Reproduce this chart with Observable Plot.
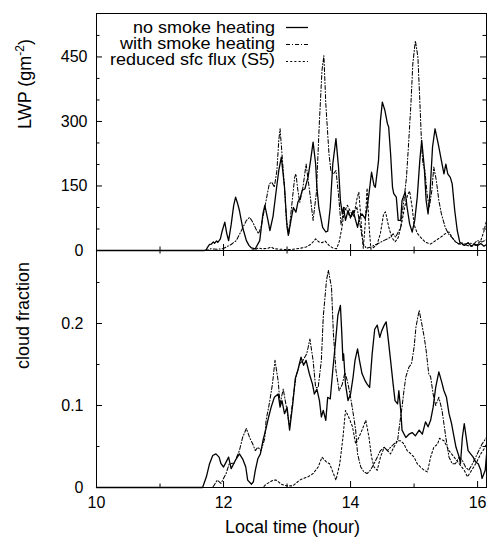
<!DOCTYPE html>
<html>
<head>
<meta charset="utf-8">
<script src="https://cdn.jsdelivr.net/npm/d3@7"></script>
<script src="https://cdn.jsdelivr.net/npm/@observablehq/plot@0.6"></script>
<style>
html,body{margin:0;padding:0;background:#fff;}
#chart{position:relative;width:487px;height:541px;overflow:hidden;background:#fff;}
#chart svg{position:absolute;left:0;}
</style>
</head>
<body>
<div id="chart"></div>
<script>
// ---------- DATA (hour, value) ----------
const seriesLabels = ["no smoke heating", "with smoke heating", "reduced sfc flux (S5)"];

// LWP (g m-2), top panel
const lwpNoSmoke = [[10,0],[11.7,0],[11.73,2],[11.75,8],[11.78,14],[11.81,15],[11.84,20],[11.86,17],[11.89,22],[11.91,19],[11.95,27],[11.98,46],[12.02,66],[12.05,40],[12.08,23],[12.12,60],[12.16,105],[12.19,124],[12.22,110],[12.25,93],[12.3,54],[12.36,23],[12.4,12],[12.44,6],[12.5,4],[12.57,23],[12.62,85],[12.65,105],[12.7,70],[12.73,46],[12.78,80],[12.83,140],[12.87,186],[12.91,217],[12.96,147],[13.0,54],[13.02,35],[13.07,77],[13.1,100],[13.14,89],[13.17,112],[13.21,124],[13.24,140],[13.28,143],[13.33,170],[13.37,209],[13.41,252],[13.45,201],[13.47,147],[13.5,100],[13.56,54],[13.61,43],[13.64,45],[13.68,100],[13.72,201],[13.77,260],[13.81,194],[13.84,116],[13.87,85],[13.89,100],[13.92,70],[13.96,93],[14.0,77],[14.04,93],[14.08,70],[14.11,54],[14.14,77],[14.18,85],[14.23,74],[14.26,100],[14.29,132],[14.33,182],[14.37,151],[14.39,147],[14.44,209],[14.47,302],[14.5,345],[14.54,326],[14.58,295],[14.6,287],[14.63,225],[14.66,147],[14.68,132],[14.72,124],[14.75,70],[14.79,70],[14.81,116],[14.86,136],[14.89,100],[14.93,62],[14.97,43],[15.01,70],[15.05,124],[15.09,209],[15.12,256],[15.16,194],[15.19,116],[15.22,85],[15.25,132],[15.29,240],[15.33,283],[15.38,248],[15.43,209],[15.47,178],[15.5,201],[15.53,178],[15.57,170],[15.6,155],[15.64,93],[15.68,46],[15.72,19],[15.76,15],[15.8,12],[15.85,18],[15.9,10],[15.95,15],[16.0,12],[16.05,16],[16.1,10],[16.14,14]];
const lwpWithSmoke = [[10,0],[11.73,0],[11.8,4],[11.9,3],[11.99,4],[12.04,8],[12.12,14],[12.2,23],[12.28,46],[12.36,70],[12.41,77],[12.46,66],[12.51,50],[12.55,39],[12.59,54],[12.64,93],[12.68,124],[12.72,155],[12.76,159],[12.8,147],[12.84,186],[12.87,256],[12.89,283],[12.92,225],[12.96,147],[12.99,70],[13.03,39],[13.07,100],[13.12,170],[13.14,178],[13.17,140],[13.2,112],[13.25,147],[13.3,201],[13.36,132],[13.41,70],[13.46,132],[13.51,302],[13.55,419],[13.58,453],[13.61,341],[13.66,225],[13.69,186],[13.73,178],[13.77,186],[13.81,130],[13.85,60],[13.9,100],[13.95,90],[14.0,75],[14.05,90],[14.1,100],[14.15,60],[14.2,15],[14.25,5],[14.32,8],[14.37,12],[14.42,15],[14.47,19],[14.52,23],[14.58,27],[14.63,31],[14.67,39],[14.71,31],[14.75,43],[14.79,54],[14.81,85],[14.84,116],[14.88,170],[14.91,240],[14.95,341],[14.98,434],[15.02,488],[15.06,450],[15.09,349],[15.12,240],[15.14,201],[15.17,186],[15.21,124],[15.24,100],[15.28,140],[15.31,194],[15.35,163],[15.39,116],[15.43,85],[15.49,54],[15.54,39],[15.59,31],[15.64,23],[15.7,15],[15.75,18],[15.81,15],[15.86,18],[15.94,15],[15.99,23],[16.07,20],[16.14,25]];
const lwpS5 = [[10,0],[12.4,0],[12.5,2],[12.55,6],[12.6,4],[12.7,5],[12.75,8],[12.8,4],[12.9,3],[13.0,2],[13.1,3],[13.2,5],[13.3,8],[13.38,15],[13.45,27],[13.5,20],[13.55,18],[13.6,22],[13.66,12],[13.72,6],[13.78,4],[13.82,20],[13.86,50],[13.9,90],[13.95,105],[14.0,90],[14.05,80],[14.1,120],[14.13,136],[14.17,60],[14.2,5],[14.23,60],[14.26,145],[14.29,60],[14.32,3],[14.37,8],[14.42,15],[14.47,40],[14.52,85],[14.55,90],[14.6,55],[14.65,30],[14.7,20],[14.75,30],[14.8,60],[14.85,100],[14.9,130],[14.93,138],[14.97,100],[15.0,60],[15.05,40],[15.1,31],[15.18,19],[15.26,15],[15.34,23],[15.42,31],[15.5,40],[15.55,43],[15.6,30],[15.65,20],[15.72,15],[15.8,12],[15.9,10],[15.98,12],[16.05,23],[16.1,45],[16.14,70]];

// cloud fraction, bottom panel
const cfNoSmoke = [[10,0],[11.67,0],[11.73,0.013],[11.78,0.029],[11.83,0.039],[11.88,0.041],[11.93,0.037],[11.96,0.029],[12.0,0.025],[12.04,0.031],[12.08,0.037],[12.12,0.023],[12.16,0.029],[12.2,0.035],[12.25,0.041],[12.3,0.035],[12.35,0.025],[12.38,0.009],[12.44,0.004],[12.47,0.007],[12.5,0.021],[12.54,0.035],[12.58,0.041],[12.62,0.057],[12.67,0.072],[12.71,0.086],[12.75,0.098],[12.8,0.11],[12.86,0.114],[12.89,0.098],[12.92,0.106],[12.96,0.09],[13.0,0.098],[13.04,0.07],[13.09,0.102],[13.13,0.133],[13.17,0.143],[13.22,0.159],[13.26,0.149],[13.3,0.155],[13.35,0.139],[13.4,0.126],[13.43,0.114],[13.47,0.12],[13.51,0.106],[13.54,0.086],[13.57,0.094],[13.61,0.082],[13.64,0.11],[13.68,0.108],[13.72,0.143],[13.76,0.175],[13.8,0.21],[13.84,0.222],[13.86,0.191],[13.88,0.155],[13.89,0.163],[13.92,0.126],[13.96,0.106],[14.0,0.114],[14.04,0.135],[14.07,0.155],[14.11,0.169],[14.14,0.155],[14.18,0.139],[14.23,0.13],[14.26,0.126],[14.3,0.122],[14.34,0.163],[14.38,0.193],[14.42,0.198],[14.46,0.183],[14.49,0.191],[14.53,0.198],[14.56,0.202],[14.59,0.183],[14.63,0.155],[14.67,0.126],[14.7,0.106],[14.74,0.102],[14.76,0.118],[14.79,0.094],[14.81,0.07],[14.87,0.061],[14.92,0.065],[14.97,0.067],[15.02,0.063],[15.08,0.07],[15.13,0.065],[15.18,0.08],[15.22,0.074],[15.26,0.082],[15.3,0.098],[15.34,0.122],[15.39,0.141],[15.43,0.13],[15.47,0.118],[15.51,0.11],[15.55,0.09],[15.59,0.078],[15.63,0.061],[15.66,0.049],[15.71,0.037],[15.73,0.029],[15.76,0.061],[15.79,0.078],[15.81,0.067],[15.85,0.045],[15.89,0.041],[15.93,0.037],[15.97,0.031],[16.01,0.029],[16.05,0.021],[16.07,0.011],[16.12,0.021],[16.14,0.04]];
const cfWithSmoke = [[10,0],[11.83,0],[11.9,0.009],[11.96,0.005],[12.04,0.017],[12.09,0.029],[12.17,0.03],[12.25,0.045],[12.3,0.061],[12.36,0.072],[12.41,0.061],[12.46,0.053],[12.5,0.045],[12.54,0.049],[12.59,0.045],[12.65,0.06],[12.67,0.082],[12.72,0.102],[12.77,0.126],[12.81,0.155],[12.86,0.13],[12.89,0.102],[12.94,0.12],[12.99,0.098],[13.04,0.074],[13.09,0.106],[13.14,0.135],[13.2,0.151],[13.25,0.155],[13.31,0.163],[13.36,0.181],[13.41,0.155],[13.45,0.122],[13.49,0.122],[13.54,0.155],[13.57,0.208],[13.62,0.252],[13.65,0.265],[13.7,0.244],[13.73,0.187],[13.77,0.143],[13.82,0.118],[13.87,0.126],[13.91,0.14],[13.95,0.13],[14.0,0.11],[14.05,0.086],[14.08,0.07],[14.11,0.041],[14.16,0.025],[14.21,0.019],[14.26,0.017],[14.31,0.021],[14.37,0.029],[14.42,0.037],[14.47,0.045],[14.53,0.049],[14.58,0.045],[14.63,0.049],[14.68,0.053],[14.74,0.057],[14.76,0.07],[14.81,0.098],[14.84,0.118],[14.87,0.135],[14.92,0.147],[14.96,0.151],[15.0,0.171],[15.03,0.196],[15.08,0.216],[15.12,0.2],[15.16,0.183],[15.19,0.167],[15.23,0.139],[15.26,0.135],[15.3,0.114],[15.34,0.1],[15.39,0.11],[15.44,0.094],[15.5,0.061],[15.55,0.037],[15.6,0.029],[15.65,0.029],[15.71,0.037],[15.76,0.033],[15.81,0.025],[15.86,0.021],[15.92,0.029],[15.97,0.037],[16.02,0.045],[16.07,0.053],[16.14,0.061]];
const cfS5 = [[10,0],[12.62,0],[12.67,0.004],[12.78,0.009],[12.83,0.009],[12.91,0.004],[12.99,0.002],[13.09,0.002],[13.2,0.009],[13.25,0.011],[13.33,0.013],[13.41,0.017],[13.49,0.025],[13.55,0.037],[13.62,0.031],[13.67,0.029],[13.72,0.019],[13.77,0.009],[13.83,0.029],[13.88,0.061],[13.92,0.094],[13.97,0.086],[14.03,0.074],[14.08,0.053],[14.13,0.061],[14.18,0.07],[14.24,0.082],[14.29,0.061],[14.33,0.037],[14.37,0.025],[14.42,0.021],[14.47,0.037],[14.53,0.049],[14.58,0.045],[14.63,0.041],[14.68,0.049],[14.74,0.057],[14.79,0.057],[14.84,0.053],[14.89,0.045],[14.95,0.041],[15.0,0.037],[15.05,0.029],[15.1,0.025],[15.16,0.021],[15.21,0.019],[15.26,0.037],[15.31,0.049],[15.37,0.053],[15.4,0.06],[15.47,0.057],[15.55,0.045],[15.63,0.037],[15.71,0.029],[15.79,0.021],[15.84,0.013],[15.89,0.019],[15.97,0.029],[16.05,0.041],[16.1,0.047],[16.14,0.053]];

// tick values
const xMajorTicks = [10, 12, 14, 16];
const xMinorTicks = [11, 13, 15];
const lwpMajorTicks = [0, 150, 300, 450];
const lwpMinorTicks = [50, 100, 200, 250, 350, 400, 500];
const cfMajorTicks = [0, 0.1, 0.2];
const cfMinorTicks = [0.05, 0.15, 0.25];
const xTitle = "Local time (hour)";
const lwpTitle = "LWP (gm-2)";
const cfTitle = "cloud fraction";

// ---------- LAYOUT ----------
const FONT = '"Liberation Sans", Arial, Helvetica, sans-serif';
const W = 487, ML = 96, MR = 1, FH = 237, FW = W - ML - MR;
const X_DOMAIN = [10, 16.14];
const MAJ = 6, MIN = 3.5;
const styles = [
  {dash: null, sw: 1.3},
  {dash: "4,2,1,2", sw: 1.05},
  {dash: "2,2.2", sw: 1.05}
];
const rows = (pairs) => pairs.map(([t, v]) => ({t, v}));

function lineMarks(list) {
  return list.map((pairs, i) => Plot.line(rows(pairs), {
    x: "t", y: "v", stroke: "#000", strokeWidth: styles[i].sw,
    strokeDasharray: styles[i].dash || undefined, strokeLinejoin: "round"
  }));
}
function yTickMarks(major, minor) {
  return [
    Plot.tickY(major, {y: d => d, insetRight: FW - MAJ, stroke: "#000"}),
    Plot.tickY(minor, {y: d => d, insetRight: FW - MIN, stroke: "#000"}),
    Plot.tickY(major, {y: d => d, insetLeft: FW - MAJ, stroke: "#000"}),
    Plot.tickY(minor, {y: d => d, insetLeft: FW - MIN, stroke: "#000"})
  ];
}
const baseStyle = {fontFamily: FONT, fontSize: "16px", color: "#000", background: "transparent", overflow: "visible"};

const topPlot = Plot.plot({
  width: W, height: 13 + FH + 1,
  marginLeft: ML, marginRight: MR, marginTop: 13, marginBottom: 1,
  x: {domain: X_DOMAIN, axis: null},
  y: {domain: [0, 551], axis: null},
  style: baseStyle,
  marks: [
    ...lineMarks([lwpNoSmoke, lwpWithSmoke, lwpS5]),
    ...yTickMarks(lwpMajorTicks, lwpMinorTicks),
    Plot.tickX(xMajorTicks, {x: d => d, insetTop: FH - MAJ, stroke: "#000"}),
    Plot.tickX(xMinorTicks, {x: d => d, insetTop: FH - MIN, stroke: "#000"}),
    Plot.text(lwpMajorTicks.filter(d => d > 0), {y: d => d, text: d => String(d), frameAnchor: "left", textAnchor: "end", dx: -9, fontSize: 16, fill: "#000"}),
    Plot.text(lwpMajorTicks.filter(d => d === 0), {y: d => d, text: d => String(d), frameAnchor: "left", textAnchor: "end", dx: -13, fontSize: 16, fill: "#000"}),
    Plot.text([lwpTitle], {text: d => d, frameAnchor: "left", dx: -71, dy: -3, rotate: -90, fontSize: 18, fill: "#000"}),
    Plot.frame({stroke: "#000"})
  ]
});

const bottomPlot = Plot.plot({
  width: W, height: FH + 54,
  marginLeft: ML, marginRight: MR, marginTop: 0, marginBottom: 54,
  x: {domain: X_DOMAIN, axis: null},
  y: {domain: [0, 0.289], axis: null},
  style: baseStyle,
  marks: [
    ...lineMarks([cfNoSmoke, cfWithSmoke, cfS5]),
    ...yTickMarks(cfMajorTicks, cfMinorTicks),
    Plot.tickX(xMajorTicks, {x: d => d, insetTop: FH - MAJ, stroke: "#000"}),
    Plot.tickX(xMinorTicks, {x: d => d, insetTop: FH - MIN, stroke: "#000"}),
    Plot.tickX(xMajorTicks, {x: d => d, insetBottom: FH - MAJ, stroke: "#000"}),
    Plot.tickX(xMinorTicks, {x: d => d, insetBottom: FH - MIN, stroke: "#000"}),
    Plot.text(cfMajorTicks, {y: d => d, text: d => String(d), frameAnchor: "left", textAnchor: "end", dx: -13, fontSize: 16, fill: "#000"}),
    Plot.text(xMajorTicks, {x: d => d, text: d => String(d), frameAnchor: "bottom", dy: 20, fontSize: 16, fill: "#000"}),
    Plot.text([xTitle], {text: d => d, frameAnchor: "bottom", dx: 1, dy: 45, fontSize: 18, fill: "#000"}),
    Plot.text([cfTitle], {text: d => d, frameAnchor: "left", dx: -73.5, rotate: -90, fontSize: 18, fill: "#000"}),
    Plot.frame({stroke: "#000"})
  ]
});

const chart = document.getElementById("chart");
topPlot.style.top = "0px";
bottomPlot.style.top = "250px";
chart.appendChild(topPlot);
chart.appendChild(bottomPlot);

// superscript in LWP title: split "gm-2" into a raised "-2"
Array.from(topPlot.querySelectorAll("text")).forEach(el => {
  if (el.textContent === lwpTitle) {
    const sel = d3.select(el);
    sel.text(null);
    sel.append("tspan").text("LWP (gm");
    sel.append("tspan").attr("dy", "-7px").attr("font-size", "12px").text("-2");
    sel.append("tspan").attr("dy", "7px").text(")");
  }
});

// legend (inside the top panel)
const lg = d3.select(topPlot).append("g").attr("font-family", FONT).attr("fill", "#000");
const legendBaselines = [32.7, 48.9, 65.2];
const legendLineY = [27.5, 44.5, 61.5];
const legendWidths = [142, 155, 165];
seriesLabels.forEach((label, i) => {
  lg.append("text")
    .attr("x", 275).attr("y", legendBaselines[i])
    .attr("text-anchor", "end").attr("font-size", 16.5)
    .attr("textLength", legendWidths[i]).attr("lengthAdjust", "spacingAndGlyphs")
    .text(label);
  lg.append("line")
    .attr("x1", 286).attr("x2", 308)
    .attr("y1", legendLineY[i]).attr("y2", legendLineY[i])
    .attr("stroke", "#000").attr("stroke-width", styles[i].sw)
    .attr("stroke-dasharray", styles[i].dash);
});
</script>
</body>
</html>
